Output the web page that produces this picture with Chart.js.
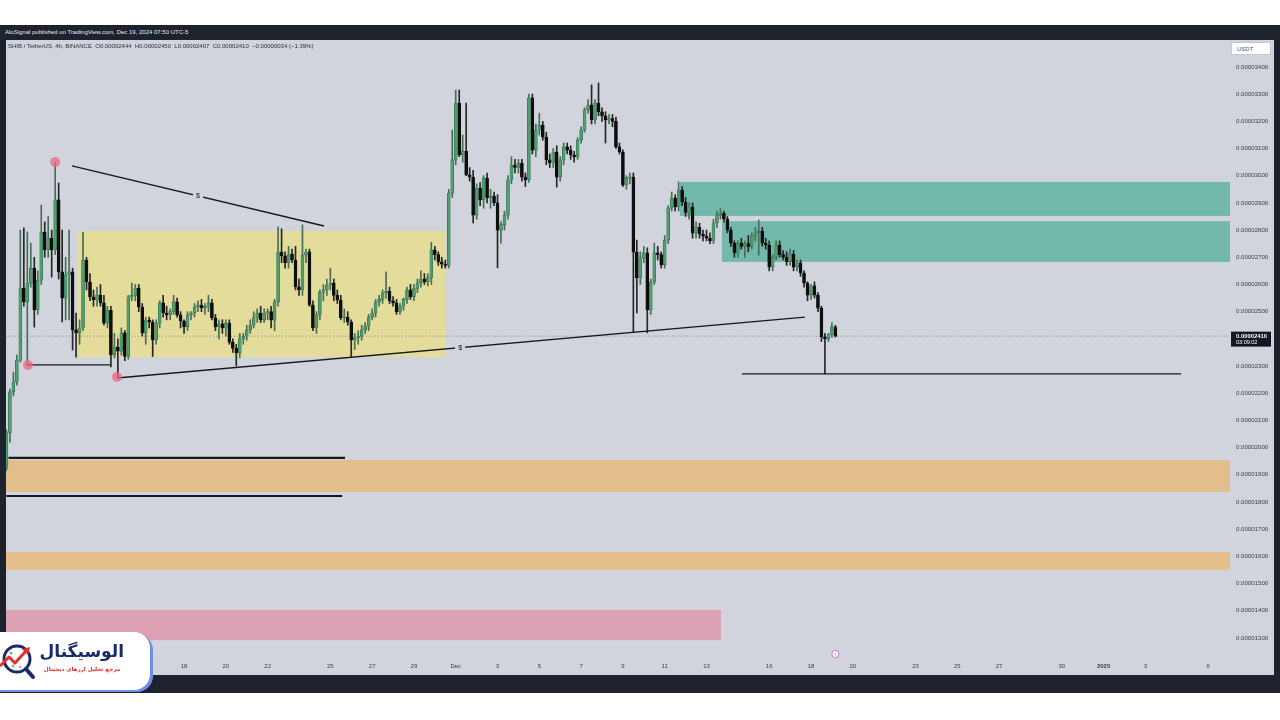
<!DOCTYPE html>
<html>
<head>
<meta charset="utf-8">
<script src="https://cdn.jsdelivr.net/npm/chart.js@4.4.1/dist/chart.umd.min.js"></script>
<style>
  html, body { margin: 0; padding: 0; background: #fff; width: 1280px; height: 720px; overflow: hidden; }
  body { position: relative; font-family: "Liberation Sans", Arial, sans-serif; }
  #frame { position: absolute; left: 0; top: 25px; width: 1280px; height: 668px; background: #1e222d; }
  #title { position: absolute; left: 5px; top: 25px; height: 15px; line-height: 15px; color: #e6e8ee; font-size: 6px; white-space: nowrap; }
  #pane { position: absolute; left: 6px; top: 40px; width: 1268px; height: 635px; background: #d1d4dc; }
  #legend { position: absolute; left: 2px; top: 3px; font-size: 6px; color: #2a2e39; white-space: pre; }
  #usdt { position: absolute; left: 1225px; top: 2px; width: 40px; height: 13px; background: #fff; border: 1px solid #c4c7cf; box-sizing: border-box; font-size: 6px; line-height: 12px; color: #555; padding-left: 5px; }
  #logo { position: absolute; left: -16px; top: 632px; width: 166px; height: 58px; background: #fff; border-radius: 16px; box-shadow: 3px 2px 0 #6d8fe6; }
  #logo svg { position: absolute; left: 16px; top: 10px; }
  #brand { position: absolute; left: 56px; top: 8px; width: 84px; text-align: center; direction: rtl; font-family: "DejaVu Sans", sans-serif; font-weight: bold; font-size: 17px; color: #1b2a6b; line-height: 22px; white-space: nowrap; }
  #slogan { position: absolute; left: 52px; top: 34px; width: 92px; text-align: center; direction: rtl; font-family: "DejaVu Sans", sans-serif; font-weight: bold; font-size: 5.6px; color: #e0302a; white-space: nowrap; }
</style>
</head>
<body>
<div id="frame"></div>
<div id="title">AloSignal published on TradingView.com, Dec 19, 2024 07:50 UTC-5</div>
<div id="pane">
  <canvas id="chart" width="1268" height="635"></canvas>
  <div id="legend">SHIB / TetherUS, 4h, BINANCE  O0.00002444  H0.00002450  L0.00002407  C0.00002410  −0.00000034 (−1.39%)</div>
  <div id="usdt">USDT</div>
</div>
<div id="logo">
  <svg width="36" height="40" viewBox="0 0 36 40">
    <circle cx="17" cy="17" r="13" fill="none" stroke="#1b2a6b" stroke-width="3"/>
    <line x1="26" y1="27" x2="33" y2="35" stroke="#1b2a6b" stroke-width="4" stroke-linecap="round"/>
    <circle cx="11" cy="11" r="1.6" fill="#6cc18a"/>
    <circle cx="20" cy="25" r="1.6" fill="#f0a0b0"/>
    <circle cx="13" cy="24" r="1.4" fill="#6cc18a"/>
    <polyline points="0,24 9,15 15,21 26,9" fill="none" stroke="#e0302a" stroke-width="3" stroke-linejoin="round"/>
    <polygon points="22,7 30,5 28,13" fill="#e0302a"/>
  </svg>
  <div id="brand">الوسیگنال</div>
  <div id="slogan">مرجع تحلیل ارزهای دیجیتال</div>
</div>
<script>
// prices in 1e-8 USDT, candles as [open, high, low, close], 4h, SHIB/USDT
const candles = [
  [1925,2065,1915,2054],[2054,2215,2020,2205],[2205,2278,2190,2241],[2241,2340,2230,2322],
  [2322,2800,2315,2587],[2587,2808,2520,2536],[2536,2793,2300,2605],[2605,2752,2590,2660],
  [2660,2700,2443,2506],[2506,2650,2490,2616],[2616,2892,2600,2793],[2793,2830,2700,2727],
  [2727,2850,2700,2771],[2771,2800,2627,2727],[2727,3050,2710,2911],[2911,2973,2620,2646],
  [2646,2800,2462,2550],[2550,2700,2470,2635],[2635,2800,2470,2646],[2646,2660,2359,2433],
  [2433,2495,2333,2422],[2422,2470,2380,2440],[2440,2793,2430,2690],[2690,2700,2580,2609],
  [2609,2640,2540,2554],[2554,2580,2520,2543],[2543,2590,2520,2561],[2561,2600,2520,2532],
  [2532,2560,2450,2458],[2458,2520,2440,2505],[2505,2520,2297,2341],[2341,2420,2330,2370],
  [2370,2400,2258,2355],[2355,2440,2340,2422],[2422,2430,2320,2335],[2335,2560,2325,2554],
  [2554,2605,2540,2560],[2560,2600,2540,2587],[2587,2600,2500,2517],[2517,2530,2410,2422],
  [2422,2480,2380,2469],[2469,2480,2440,2462],[2462,2470,2335,2396],[2396,2470,2380,2458],
  [2458,2540,2440,2532],[2532,2560,2480,2495],[2495,2520,2470,2488],[2488,2510,2470,2500],
  [2500,2560,2490,2536],[2536,2550,2480,2488],[2488,2500,2440,2465],[2465,2470,2420,2445],
  [2445,2500,2430,2488],[2488,2500,2470,2495],[2495,2530,2480,2517],[2517,2540,2500,2524],
  [2524,2545,2500,2515],[2515,2530,2490,2520],[2520,2560,2500,2532],[2532,2545,2470,2477],
  [2477,2490,2430,2444],[2444,2470,2400,2455],[2455,2470,2420,2440],[2440,2470,2410,2458],
  [2458,2470,2380,2388],[2388,2400,2350,2365],[2365,2380,2300,2348],[2348,2420,2330,2400],
  [2400,2420,2380,2410],[2410,2450,2395,2433],[2433,2470,2420,2451],[2451,2500,2440,2477],
  [2477,2510,2460,2495],[2495,2520,2460,2470],[2470,2510,2460,2495],[2495,2510,2470,2500],
  [2500,2520,2440,2469],[2469,2545,2430,2536],[2536,2812,2520,2719],[2719,2805,2680,2705],
  [2705,2720,2660,2679],[2679,2740,2660,2712],[2712,2730,2680,2690],[2690,2740,2580,2591],
  [2591,2620,2560,2580],[2580,2819,2560,2708],[2708,2730,2680,2720],[2720,2730,2520,2524],
  [2524,2540,2430,2440],[2440,2500,2420,2488],[2488,2580,2470,2572],[2572,2600,2540,2580],
  [2580,2620,2560,2598],[2598,2660,2580,2605],[2605,2620,2540,2560],[2560,2580,2530,2543],
  [2543,2560,2470,2477],[2477,2510,2460,2480],[2480,2500,2450,2462],[2462,2470,2335,2396],
  [2396,2420,2360,2405],[2405,2430,2380,2410],[2410,2450,2395,2433],[2433,2460,2420,2447],
  [2447,2490,2430,2480],[2480,2510,2470,2495],[2495,2545,2480,2536],[2536,2560,2520,2545],
  [2545,2580,2530,2569],[2569,2646,2550,2575],[2575,2590,2530,2540],[2540,2555,2520,2532],
  [2532,2545,2490,2500],[2500,2530,2490,2520],[2520,2550,2505,2545],[2545,2590,2530,2580],
  [2580,2600,2545,2555],[2555,2600,2540,2585],[2585,2620,2570,2605],[2605,2650,2590,2620],
  [2620,2640,2600,2610],[2610,2640,2595,2625],[2625,2755,2600,2727],[2727,2740,2690,2710],
  [2710,2720,2670,2683],[2683,2700,2660,2675],[2675,2690,2660,2670],[2670,2950,2660,2936],
  [2936,3168,2920,3058],[3058,3315,3040,3267],[3267,3315,3070,3076],[3076,3150,3050,3090],
  [3090,3267,3000,3003],[3003,3030,2980,2995],[2995,3020,2826,2855],[2855,2970,2840,2954],
  [2954,2975,2890,2911],[2911,3000,2880,2991],[2991,3010,2900,2918],[2918,2950,2880,2925],
  [2925,2940,2890,2900],[2900,2930,2661,2800],[2800,2830,2752,2820],[2820,2870,2800,2855],
  [2855,3000,2840,2984],[2984,3070,2970,3039],[3039,3060,3010,3030],[3030,3060,3010,3045],
  [3045,3060,2980,2995],[2995,3010,2960,2985],[2985,3300,2975,3286],[3286,3300,3080,3094],
  [3094,3190,3070,3168],[3168,3230,3150,3186],[3186,3200,3130,3142],[3142,3160,3040,3058],
  [3058,3080,3030,3047],[3047,3100,3030,3087],[3087,3110,2958,2995],[2995,3070,2980,3058],
  [3058,3120,3040,3106],[3106,3120,3080,3094],[3094,3110,3060,3076],[3076,3090,3050,3069],
  [3069,3140,3060,3131],[3131,3180,3120,3168],[3168,3250,3160,3242],[3242,3280,3230,3260],
  [3260,3334,3190,3205],[3205,3280,3190,3267],[3267,3341,3220,3235],[3235,3250,3200,3220],
  [3220,3235,3120,3205],[3205,3225,3190,3210],[3210,3225,3180,3200],[3200,3216,3100,3106],
  [3106,3120,3080,3087],[3087,3095,2960,2966],[2966,3000,2950,2991],[2991,3010,2970,2995],
  [2995,3010,2425,2719],[2719,2763,2495,2624],[2624,2720,2600,2697],[2697,2740,2680,2716],
  [2716,2735,2422,2506],[2506,2620,2490,2609],[2609,2752,2600,2716],[2716,2740,2690,2710],
  [2710,2720,2660,2672],[2672,2780,2660,2763],[2763,2890,2750,2881],[2881,2940,2870,2918],
  [2918,2930,2870,2885],[2885,2977,2870,2947],[2947,2960,2890,2903],[2903,2920,2850,2865],
  [2865,2900,2840,2885],[2885,2900,2770,2789],[2789,2830,2770,2810],[2810,2825,2770,2785],
  [2785,2800,2760,2778],[2778,2800,2760,2770],[2770,2790,2750,2760],[2760,2840,2750,2826],
  [2826,2870,2810,2855],[2855,2880,2840,2862],[2862,2870,2830,2840],[2840,2850,2790,2800],
  [2800,2810,2740,2752],[2752,2760,2700,2716],[2716,2760,2700,2752],[2752,2770,2730,2740],
  [2740,2760,2700,2750],[2750,2780,2720,2740],[2740,2790,2730,2780],[2780,2810,2760,2790],
  [2790,2837,2708,2795],[2795,2810,2740,2752],[2752,2770,2730,2745],[2745,2760,2650,2664],
  [2664,2710,2650,2700],[2700,2760,2690,2745],[2745,2760,2700,2710],[2710,2725,2690,2700],
  [2700,2720,2670,2683],[2683,2730,2670,2712],[2712,2725,2650,2664],[2664,2690,2650,2680],
  [2680,2690,2630,2642],[2642,2650,2590,2605],[2605,2610,2540,2561],[2561,2600,2545,2595],
  [2595,2610,2550,2561],[2561,2570,2500,2513],[2513,2520,2390,2407],[2407,2420,2271,2400],
  [2400,2420,2390,2415],[2415,2460,2405,2444],[2444,2450,2407,2410]
];

// time in days from Dec 1 00:00, last candle is Dec 19 04:00
const lastCandleDay = 18 + 4 / 24;
const candleStep = 4 / 24;

const priceTicks = [3400, 3300, 3200, 3100, 3000, 2900, 2800, 2700, 2600, 2500,
  2300, 2200, 2100, 2000, 1900, 1800, 1700, 1600, 1500, 1400, 1300];
const dateTickDays = [-13, -11, -9, -6, -4, -2, 0, 2, 4, 6, 8, 10, 12, 15, 17, 19, 22, 24, 26, 29, 31, 33, 36];
const dateTickLabels = ['18', '20', '22', '25', '27', '29', 'Dec', '3', '5', '7', '9', '11', '13',
  '16', '18', '20', '23', '25', '27', '30', '2025', '3', '6'];

// drawn zones: [from day, to day, low, high]
const zoneFrom = [-18.12, 10.73, 12.74, -30, -30, -30];
const zoneTo   = [-0.46, 45, 45, 45, 45, 12.69];
const zoneLow  = [2333, 2852, 2683, 1837, 1550, 1292];
const zoneHigh = [2797, 2977, 2833, 1954, 1616, 1403];

// drawn lines: start / end in (day, price)
const lineFromDay   = [-18.36, -16.21, -20.47, -21.4, -21.5, 13.70];
const lineFromPrice = [3036, 2256, 2304, 1962, 1822, 2271];
const lineToDay     = [-6.30, 16.71, -16.49, -5.3, -5.43, 34.71];
const lineToPrice   = [2815, 2480, 2304, 1962, 1822, 2271];

// "$" labels sitting on the two trend lines
const labelDay   = [-12.33, 0.21];
const labelPrice = [2925, 2366];

// pivot markers
const markerDay   = [-19.17, -20.47, -16.21];
const markerPrice = [3050, 2304, 2260];

const xMin = -21.52, xMax = 37.05;
const yMin = 1230, yMax = 3499;

const zoneColors = ['#e4dc9b', '#72b8ab', '#72b8ab', '#e1be8a', '#e5c08b', '#dca1b2'];
const lineWidths = [1.3, 1.3, 1.3, 2.2, 2.2, 1.3];

const UP = '#4f9e71', DOWN = '#0e0e0e';

const n = candles.length;
const times = candles.map((c, i) => lastCandleDay - (n - 1 - i) * candleStep);
const isUp = candles.map(c => c[3] >= c[0]);

const bodyData = candles.map((c, i) => ({ x: times[i], y: [c[0], c[3]] }));
const wickData = candles.map((c, i) => ({
  x: times[i],
  y: [Math.min(c[2], c[0], c[3]), Math.max(c[1], c[0], c[3])]
}));
const lastClose = candles[n - 1][3];

const lineSets = lineFromDay.map((d, i) => ({
  type: 'line',
  data: [{ x: d, y: lineFromPrice[i] }, { x: lineToDay[i], y: lineToPrice[i] }],
  borderColor: '#16181d',
  borderWidth: lineWidths[i],
  pointRadius: 0,
  order: 1
}));

const fmtPrice = v => (v / 1e8).toFixed(8);

// no label padding around the plot, the pane is edge to edge
const noPad = s => { s.paddingTop = 0; s.paddingBottom = 0; s.paddingLeft = 0; s.paddingRight = 0; };

// zones under the candles, labels and price tag on top
const drawings = {
  id: 'drawings',
  beforeDatasetsDraw(chart) {
    const { ctx, chartArea: a, scales: { x, y } } = chart;
    ctx.save();
    ctx.beginPath();
    ctx.rect(a.left, a.top, a.right - a.left, a.bottom - a.top);
    ctx.clip();
    zoneFrom.forEach((f, i) => {
      const x0 = x.getPixelForValue(f), x1 = x.getPixelForValue(zoneTo[i]);
      const y0 = y.getPixelForValue(zoneHigh[i]), y1 = y.getPixelForValue(zoneLow[i]);
      ctx.fillStyle = zoneColors[i];
      ctx.fillRect(x0, y0, x1 - x0, y1 - y0);
    });
    ctx.restore();
  },
  afterDatasetsDraw(chart) {
    const { ctx, scales: { x, y } } = chart;
    ctx.save();
    ctx.font = '7px "Liberation Sans", Arial, sans-serif';
    ctx.textAlign = 'center';
    ctx.textBaseline = 'middle';
    labelDay.forEach((d, i) => {
      const px = x.getPixelForValue(d), py = y.getPixelForValue(labelPrice[i]);
      ctx.fillStyle = '#d1d4dc';
      ctx.fillRect(px - 5, py - 5, 10, 10);
      ctx.fillStyle = '#16181d';
      ctx.fillText('$', px, py);
    });
    // event icon on the time strip
    const ix = x.getPixelForValue(lastCandleDay), iy = chart.chartArea.bottom - 3;
    ctx.beginPath();
    ctx.arc(ix, iy, 3.6, 0, Math.PI * 2);
    ctx.fillStyle = '#fff';
    ctx.fill();
    ctx.strokeStyle = '#b25cc8';
    ctx.lineWidth = 0.8;
    ctx.stroke();
    ctx.fillStyle = '#b25cc8';
    ctx.font = '5px "DejaVu Sans", sans-serif';
    ctx.fillText('ϟ', ix, iy + 0.5);
    ctx.restore();
  },
  afterDraw(chart) {
    const { ctx, chartArea: a, scales: { y } } = chart;
    const py = y.getPixelForValue(lastClose);
    ctx.save();
    ctx.fillStyle = '#131722';
    ctx.fillRect(a.right + 1, py - 4.5, 40, 15);
    ctx.fillStyle = '#fff';
    ctx.textBaseline = 'middle';
    ctx.font = 'bold 5.9px "Liberation Sans", Arial, sans-serif';
    ctx.fillText(fmtPrice(lastClose), a.right + 6, py);
    ctx.font = '5.5px "Liberation Sans", Arial, sans-serif';
    ctx.fillText('03:09:02', a.right + 6, py + 6.5);
    ctx.restore();
  }
};

Chart.defaults.font.family = '"Liberation Sans", Arial, sans-serif';

new Chart(document.getElementById('chart'), {
  type: 'bar',
  data: {
    datasets: [
      {
        type: 'line',
        data: [{ x: xMin, y: lastClose }, { x: xMax, y: lastClose }],
        borderColor: '#80858f',
        borderWidth: 1,
        borderDash: [1, 2],
        pointRadius: 0,
        order: 5
      },
      {
        data: wickData,
        backgroundColor: isUp.map(u => u ? '#4a6d58' : '#262626'),
        barThickness: 1,
        grouped: false,
        order: 3
      },
      {
        data: bodyData,
        backgroundColor: isUp.map(u => u ? UP : DOWN),
        borderColor: isUp.map(u => u ? '#2f6b49' : DOWN),
        borderWidth: 0.6,
        borderSkipped: false,
        barThickness: 3,
        minBarLength: 1,
        grouped: false,
        order: 2
      },
      ...lineSets,
      {
        type: 'scatter',
        data: markerDay.map((d, i) => ({ x: d, y: markerPrice[i] })),
        backgroundColor: 'rgba(236, 104, 134, 0.75)',
        borderWidth: 0,
        pointRadius: 5,
        order: 0
      }
    ]
  },
  options: {
    responsive: false,
    animation: false,
    devicePixelRatio: 1,
    layout: { padding: 0, autoPadding: false },
    plugins: { legend: { display: false }, tooltip: { enabled: false } },
    scales: {
      x: {
        type: 'linear',
        min: xMin,
        max: xMax,
        offset: false,
        grid: { display: false, drawTicks: false, offset: false },
        border: { display: false },
        afterBuildTicks: s => { s.ticks = dateTickDays.map(v => ({ value: v })); },
        afterFit: s => { s.height = 18; noPad(s); },
        ticks: {
          autoSkip: false,
          maxRotation: 0,
          padding: 6,
          color: '#3a3e48',
          font: c => ({ size: 6, weight: (c.tick && c.tick.label === '2025') ? 'bold' : 'normal' }),
          callback: (v, i) => dateTickLabels[i]
        }
      },
      y: {
        position: 'right',
        min: yMin,
        max: yMax,
        grid: { display: false, drawTicks: false },
        border: { display: false },
        afterBuildTicks: s => { s.ticks = priceTicks.map(v => ({ value: v })); },
        afterFit: s => { s.width = 44; noPad(s); },
        ticks: {
          autoSkip: false,
          padding: 6,
          color: '#3a3e48',
          font: { size: 6.1 },
          callback: v => fmtPrice(v)
        }
      }
    }
  },
  plugins: [drawings]
});
</script>
</body>
</html>
